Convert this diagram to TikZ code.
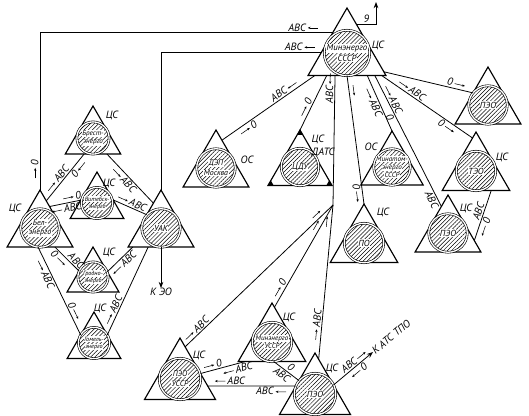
\documentclass[tikz,border=0pt]{standalone}
\usepackage{fontspec}
\setmainfont{PT Sans}
\usetikzlibrary{positioning, arrows.meta, calc, shapes.geometric, patterns.meta}
\newcommand{\flowR}{\tikz[baseline=-0.6ex]\draw[line width=.6pt, -{Stealth[length=3.2pt, width=2.6pt]}] (0,0) -- (12pt,0);}
\newcommand{\flowL}{\tikz[baseline=-0.6ex]\draw[line width=.6pt, {Stealth[length=3.2pt, width=2.6pt]}-] (0,0) -- (12pt,0);}
\newcommand{\wb}[1]{{\setlength{\fboxsep}{0.5pt}\colorbox{white}{#1}}}

\begin{document}
\begin{tikzpicture}[x=0.04cm, y=-0.04cm, >=Stealth,
  tri/.style={regular polygon, regular polygon sides=3, draw, line width=1.3pt, inner sep=0pt, outer sep=0pt},
  disc/.style={circle, draw, line width=.7pt, double=white, double distance=1.5pt, inner sep=0pt, pattern={Lines[angle=45, distance=3.3pt, line width=.55pt]}},
  txt/.style={align=center, inner sep=0pt, font=\small\itshape},
  tag/.style={font=\large\itshape, inner sep=0pt},
  link/.style={line width=.9pt},
  lbl/.style={font=\large\itshape, inner sep=1.5pt, sloped}]
  \useasboundingbox (0,0) rectangle (529,415);
  \clip (0,0) rectangle (529,415);

  % stations
  \node[tri, minimum size=3.6cm] (msssr) at (347,53) {};
  \node[disc, minimum size=1.82cm] (msssr-c) at (msssr) {};
  \node[txt, font=\normalsize\itshape] (msssr-t) at (msssr) {\wb{Минэнерго}\\\wb{СССР}};
  \node[tri, minimum size=3.04cm] (peo1) at (488,105) {};
  \node[disc, minimum size=1.54cm] (peo1-c) at (peo1) {};
  \node[txt, font=\normalsize\itshape] (peo1-t) at (peo1) {\wb{ПЭО}};
  \node[tri, minimum size=3.04cm] (dep) at (216,168) {};
  \node[disc, minimum size=1.54cm] (dep-c) at (dep) {};
  \node[txt] (dep-t) at (dep) {\wb{ДЭП}\\\wb{Москва}};
  \node[tri, minimum size=2.96cm] (cdu) at (300,167) {};
  \node[disc, minimum size=1.50cm] (cdu-c) at (cdu) {};
  \node[txt, font=\normalsize\itshape] (cdu-t) at (cdu) {\wb{ЦДУ}};
  \node[tri, minimum size=2.88cm] (matom) at (392,167) {};
  \node[disc, minimum size=1.46cm] (matom-c) at (matom) {};
  \node[txt, font=\footnotesize\itshape] (matom-t) at (matom) {\wb{Минатом-}\\\wb{энерго}\\\wb{СССР}};
  \node[tri, minimum size=3.12cm] (teo) at (476,171) {};
  \node[disc, minimum size=1.58cm] (teo-c) at (teo) {};
  \node[txt, font=\normalsize\itshape] (teo-t) at (teo) {\wb{ТЭО}};
  \node[tri, minimum size=3.04cm] (leo) at (448,233) {};
  \node[disc, minimum size=1.54cm] (leo-c) at (leo) {};
  \node[txt, font=\normalsize\itshape] (leo-t) at (leo) {\wb{ПЭО}};
  \node[tri, minimum size=3.12cm] (po) at (364,243) {};
  \node[disc, minimum size=1.58cm] (po-c) at (po) {};
  \node[txt, font=\normalsize\itshape] (po-t) at (po) {\wb{ПО}};
  \node[tri, minimum size=2.56cm] (brest) at (93,138) {};
  \node[disc, minimum size=1.29cm] (brest-c) at (brest) {};
  \node[txt, font=\footnotesize\itshape] (brest-t) at (brest) {\wb{Брест-}\\\wb{энерго}};
  \node[tri, minimum size=2.48cm] (vit) at (97,203) {};
  \node[disc, minimum size=1.25cm] (vit-c) at (vit) {};
  \node[txt, font=\scriptsize\itshape] (vit-t) at (vit) {\wb{Витебск-}\\\wb{энерго}};
  \node[tri, minimum size=3.04cm] (bel) at (40,228) {};
  \node[disc, minimum size=1.54cm] (bel-c) at (bel) {};
  \node[txt] (bel-t) at (bel) {\wb{Бел-}\\\wb{энерго}};
  \node[tri, minimum size=3.04cm] (uak) at (161,228) {};
  \node[disc, minimum size=1.54cm] (uak-c) at (uak) {};
  \node[txt, font=\normalsize\itshape] (uak-t) at (uak) {\wb{УАК}};
  \node[tri, minimum size=2.40cm] (grod) at (93,277) {};
  \node[disc, minimum size=1.21cm] (grod-c) at (grod) {};
  \node[txt, font=\scriptsize\itshape] (grod-t) at (grod) {\wb{Гродно-}\\\wb{энерго}};
  \node[tri, minimum size=2.48cm] (gom) at (94,343) {};
  \node[disc, minimum size=1.25cm] (gom-c) at (gom) {};
  \node[txt, font=\scriptsize\itshape] (gom-t) at (gom) {\wb{Гомель-}\\\wb{энерго}};
  \node[tri, minimum size=3.28cm] (peousr) at (180,379) {};
  \node[disc, minimum size=1.66cm] (peousr-c) at (peousr) {};
  \node[txt] (peousr-t) at (peousr) {\wb{ПЭО}\\\wb{УССР}};
  \node[tri, minimum size=3.12cm] (mussr) at (272,342) {};
  \node[disc, minimum size=1.58cm] (mussr-c) at (mussr) {};
  \node[txt, font=\footnotesize\itshape] (mussr-t) at (mussr) {\wb{Минэнерго}\\\wb{УССР}};
  \node[tri, minimum size=3.28cm] (peo2) at (315,394) {};
  \node[disc, minimum size=1.66cm] (peo2-c) at (peo2) {};
  \node[txt, font=\normalsize\itshape] (peo2-t) at (peo2) {\wb{ПЭО}};
  \foreach \a/\b/\c in {1/2/3, 2/3/1, 3/1/2}
    \fill (cdu.corner \a) -- ($(cdu.corner \a)!.09!(cdu.corner \b)$) -- ($(cdu.corner \a)!.09!(cdu.corner \c)$) -- cycle;

  % tags
  \node[tag] (msssr-l) at (378,45) {ЦС};
  \node[tag] (dep-l) at (247,160) {ОС};
  \node[tag, align=left] (cdu-l) at (323,146) {ЦС\\ДАТС};
  \node[tag] (matom-l) at (371,147) {ОС};
  \node[tag] (teo-l) at (502,157) {ЦС};
  \node[tag] (leo-l) at (466,208) {ЦС};
  \node[tag] (po-l) at (383,212) {ЦС};
  \node[tag] (brest-l) at (112,115) {ЦС};
  \node[tag] (vit-l) at (109,183) {ЦС};
  \node[tag] (bel-l) at (15,208) {ЦС};
  \node[tag] (grod-l) at (109,252) {ЦС};
  \node[tag] (gom-l) at (100,308) {ЦС};
  \node[tag] (peousr-l) at (199,355) {ЦС};
  \node[tag] (mussr-l) at (289,317) {ЦС};
  \node[tag] (peo2-l) at (332,368) {ЦС};
  \node[tag] (keo) at (161,292) {К ЭО};
  \node[tag, rotate=40, anchor=west] (katc) at (373,352) {К АТС ТПО};
  \coordinate (out9) at (376,2);
  \coordinate (jn) at (333,205);

  % connectors
  \draw[link] (bel.corner 1) |- (msssr.125)
    node[lbl, above, pos=.065] {\flowR\,0}
    node[lbl, above, pos=.95] {АВС\,\flowL};
  \draw[link] (uak.corner 1) |- (msssr.178)
    node[lbl, above, pos=.933] {АВС\,\flowL};
  \draw[link, ->] (msssr.71) -| (out9) node[lbl, above, pos=.25] {9};
  \draw[link] (msssr.215) -- (dep.78)
    node[lbl, above, pos=.3] {АВС\,\flowL}
    node[lbl, below, pos=.75] {\flowR\,0};
  \draw[link] (msssr.228) -- (cdu.corner 1)
    node[lbl, above, pos=.63] {\flowR\,0};
  \draw[link] (msssr.242) -- (jn)
    node[lbl, above, pos=.1] {АВС\,\flowL};
  \draw[link] (msssr.270) -- (po.corner 1)
    node[lbl, above, pos=.12] {\flowR}
    node[lbl, below, pos=.91] {0\,\flowR};
  \draw[link] (msssr.312) -- (matom.corner 1)
    node[lbl, below, pos=.44] {\flowR\,АВС};
  \draw[link] (msssr.321) -- (leo.104)
    node[lbl, above, pos=.2] {\flowR\,АВС}
    node[lbl, below, pos=.3] {0}
    node[lbl, below, pos=.93] {АВС};
  \draw[link] (msssr.-33) -- (teo.96)
    node[lbl, above, pos=.3] {\flowR\,АВС}
    node[lbl, below, pos=.75] {0\,\flowR};
  \draw[link] (msssr.-27) -- (peo1.141)
    node[lbl, above, pos=.8] {0\,\flowR};
  \draw[link] (teo.-52) -- (leo.-16)
    node[lbl, above, pos=.45] {АВС}
    node[lbl, below, pos=.7] {\flowL\,0};

  \draw[link] (bel.77) -- (brest.241)
    node[lbl, above, pos=.4] {\flowR\,АВС}
    node[lbl, below, pos=.75] {0\,\flowL};
  \draw[link] (brest.-49) -- (uak.107)
    node[lbl, below, pos=.45] {\flowR\,АВС};
  \draw[link] (bel.66) -- (vit.170)
    node[lbl, above, pos=.75] {\flowR\,0}
    node[lbl, below, pos=.5] {\flowL\,АВС};
  \draw[link] (vit.11) -- (uak.137)
    node[lbl, above, pos=.5] {\flowR\,АВС};
  \draw[link] (bel.-52) -- (grod.157)
    node[lbl, above, pos=.72] {АВС}
    node[lbl, below, pos=.32] {0\,\flowR};
  \draw[link] (uak.214) -- (grod.20)
    node[lbl, below, pos=.5] {\flowL\,АВС};
  \draw[link] (bel.264) -- (gom.149)
    node[lbl, below, pos=.28] {\flowR\,АВС}
    node[lbl, above, pos=.75] {0\,\flowR};
  \draw[link] (uak.236) -- (gom.31)
    node[lbl, above, pos=.74] {\flowR\,АВС};
  \draw[link, ->] (uak.270) -- (keo);

  \draw[link] (peousr.81) -- (jn)
    node[lbl, above, pos=.1] {\flowR\,АВС}
    node[lbl, above, pos=.91] {\flowR};
  \draw[link] (mussr.86) -- (jn)
    node[lbl, above, pos=.16] {\flowR\,0}
    node[lbl, above, pos=.78] {\flowR};
  \draw[link] (peo2.84) -- (jn)
    node[lbl, above, pos=.22] {\flowR\,АВС}
    node[lbl, above, pos=.89] {\flowR};
  \draw[link] (peousr.15) -- (mussr.216)
    node[lbl, above, pos=.3] {\flowR\,0}
    node[lbl, below, pos=.8] {\flowL\,АВС};
  \draw[link] (peousr.-14) -- (peo2.157)
    node[lbl, above, pos=.25] {\flowL\,АВС}
    node[lbl, below, pos=.72] {АВС\,\flowL};
  \draw[link] (mussr.275) -- (peo2.140)
    node[lbl, above, pos=.55] {0}
    node[lbl, below, pos=.45] {АВС};
  \draw[link, ->] (peo2.26) -- (katc.west)
    node[lbl, above, pos=.6] {АВС\,\flowR}
    node[lbl, below, pos=.55] {\flowL\,0};
\end{tikzpicture}
\end{document}
